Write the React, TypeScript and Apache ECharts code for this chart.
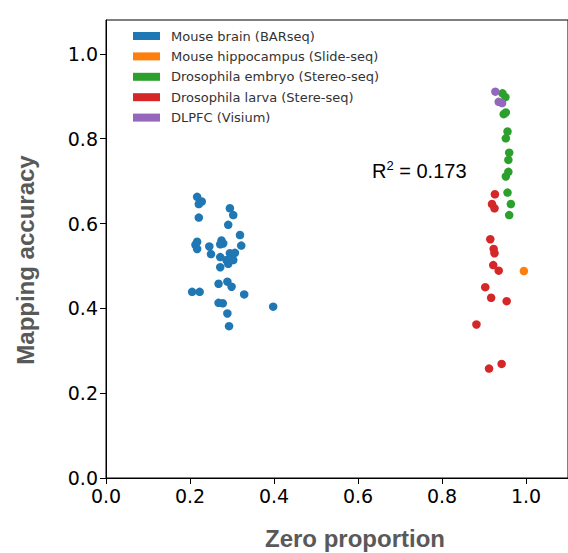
import React, { useEffect, useRef } from "react";
import * as echarts from "echarts";

const seriesNames = [
  "Mouse brain (BARseq)",
  "Mouse hippocampus (Slide-seq)",
  "Drosophila embryo (Stereo-seq)",
  "Drosophila larva (Stere-seq)",
  "DLPFC (Visium)",
];
const seriesColors = ["#1f77b4", "#ff7f0e", "#2ca02c", "#d62728", "#9467bd"];

const mouseBrain: [number, number][] = [
  [0.217, 0.663], [0.228, 0.652], [0.221, 0.646], [0.295, 0.636], [0.303, 0.62],
  [0.221, 0.614], [0.291, 0.597], [0.319, 0.573], [0.217, 0.557], [0.213, 0.55],
  [0.217, 0.54], [0.275, 0.56], [0.272, 0.551], [0.279, 0.553], [0.322, 0.548],
  [0.246, 0.546], [0.25, 0.528], [0.295, 0.53], [0.307, 0.531], [0.272, 0.521],
  [0.287, 0.514], [0.303, 0.514], [0.291, 0.505], [0.272, 0.497], [0.268, 0.458],
  [0.289, 0.463], [0.299, 0.451], [0.205, 0.439], [0.223, 0.439], [0.329, 0.433],
  [0.268, 0.413], [0.278, 0.412], [0.398, 0.404], [0.289, 0.388], [0.293, 0.358],
];
const mouseHippocampus: [number, number][] = [[0.995, 0.488]];
const drosophilaEmbryo: [number, number][] = [
  [0.944, 0.907], [0.951, 0.898], [0.947, 0.858], [0.952, 0.862], [0.956, 0.817],
  [0.952, 0.801], [0.96, 0.767], [0.958, 0.75], [0.958, 0.722], [0.952, 0.711],
  [0.956, 0.673], [0.964, 0.646], [0.96, 0.62],
];
const drosophilaLarva: [number, number][] = [
  [0.926, 0.669], [0.919, 0.646], [0.925, 0.636], [0.915, 0.563], [0.923, 0.54],
  [0.925, 0.53], [0.922, 0.502], [0.935, 0.489], [0.903, 0.45], [0.917, 0.425],
  [0.954, 0.417], [0.882, 0.362], [0.942, 0.269], [0.912, 0.258],
];
const dlpfc: [number, number][] = [[0.927, 0.911], [0.935, 0.887], [0.943, 0.884]];

const seriesData = [mouseBrain, mouseHippocampus, drosophilaEmbryo, drosophilaLarva, dlpfc];
const tickValues = [0, 0.2, 0.4, 0.6, 0.8, 1.0];
const xTitle = "Zero proportion";
const yTitle = "Mapping accuracy";

export default function App() {
  const ref = useRef<HTMLDivElement>(null);
  useEffect(() => {
    if (!ref.current) return;
    const chart = echarts.init(ref.current, null, { renderer: "svg" });
    const tickFont = { fontFamily: "DejaVu Sans", fontSize: 19, color: "#000" };
    const axisCommon = {
      type: "value" as const,
      min: 0,
      interval: 0.2,
      splitLine: { show: false },
      axisLine: { show: true, onZero: false, lineStyle: { color: "#000", width: 1 } },
      axisTick: { show: true, inside: false, length: 6, customValues: tickValues, lineStyle: { color: "#000" } },
      axisLabel: {
        ...tickFont,
        margin: 8,
        customValues: tickValues,
        formatter: (v: number) => v.toFixed(1),
      },
    };
    chart.setOption({
      animation: false,
      grid: {
        left: 106,
        top: 20,
        width: 469,
        height: 458,
        show: true,
        borderColor: "#000",
        borderWidth: 1,
        containLabel: false,
      },
      xAxis: { ...axisCommon, max: 1.1 },
      yAxis: { ...axisCommon, max: 1.08 },
      legend: {
        orient: "vertical",
        left: 133,
        top: 29,
        padding: 0,
        itemWidth: 27,
        itemHeight: 8,
        itemGap: 6.4,
        icon: "rect",
        data: seriesNames,
        textStyle: {
          fontFamily: "DejaVu Sans",
          fontSize: 13,
          color: "#333",
          lineHeight: 14,
          padding: [0, 0, 0, 6],
        },
      },
      series: seriesNames.map((name, i) => ({
        name,
        type: "scatter",
        data: seriesData[i],
        symbol: "circle",
        symbolSize: 8.5,
        itemStyle: { color: seriesColors[i], opacity: 1 },
      })),
      graphic: [
        {
          type: "text",
          x: 355,
          y: 538,
          style: {
            text: xTitle,
            font: "bold 24px 'Liberation Sans'",
            fill: "#595959",
            align: "center",
            verticalAlign: "middle",
          },
        },
        {
          type: "text",
          x: 25,
          y: 260,
          rotation: Math.PI / 2,
          style: {
            text: yTitle,
            font: "bold 24px 'Liberation Sans'",
            fill: "#595959",
            align: "center",
            verticalAlign: "middle",
          },
        },
        {
          type: "text",
          x: 372,
          y: 171,
          style: {
            text: "{r|R}{s|2}{r| = 0.173}",
            align: "left",
            verticalAlign: "middle",
            rich: {
              r: { fontFamily: "Liberation Sans", fontSize: 20, lineHeight: 24, fill: "#000", color: "#000" },
              s: { fontFamily: "Liberation Sans", fontSize: 13, lineHeight: 13, verticalAlign: "top", fill: "#000", color: "#000" },
            },
          },
        },
      ],
    });
    return () => chart.dispose();
  }, []);
  return (
    <div
      ref={ref}
      style={{ position: "absolute", left: 0, top: 0, width: 568, height: 553 }}
    />
  );
}
